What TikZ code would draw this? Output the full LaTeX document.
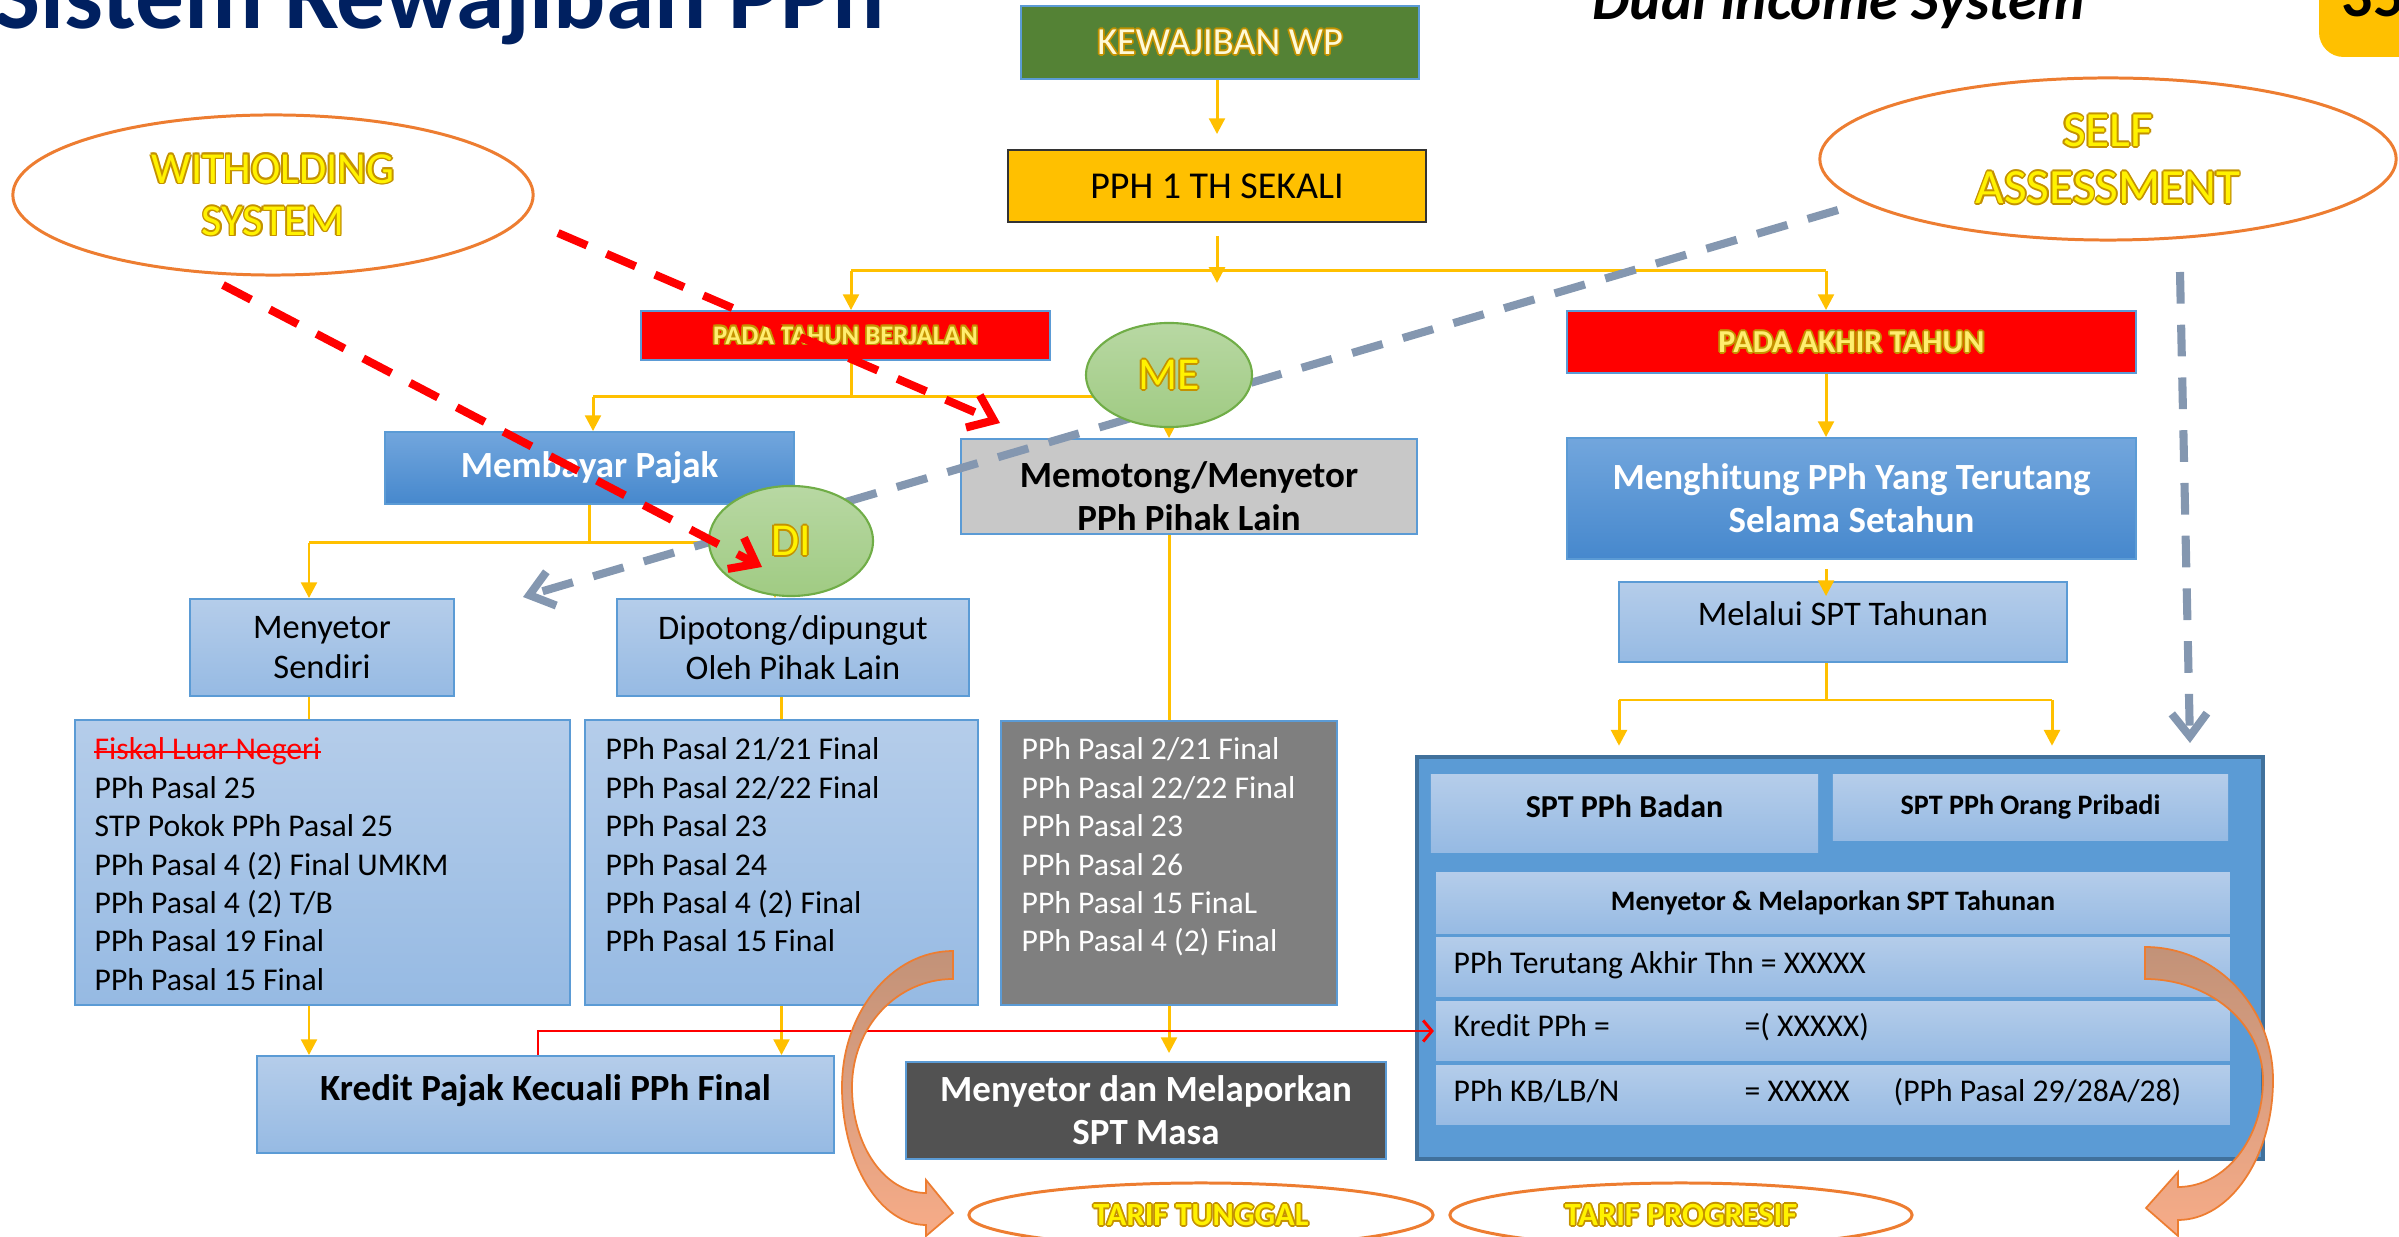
\documentclass[tikz,border=0pt]{standalone}
\usepackage{fontspec}
\setmainfont{Carlito}
\usetikzlibrary{arrows.meta}
\usetikzlibrary{shapes.geometric}

\definecolor{flowyellow}{RGB}{255,192,0}
\definecolor{navytitle}{RGB}{0,32,96}
\definecolor{okgreen}{RGB}{84,130,53}
\definecolor{edgeblue}{RGB}{91,155,213}
\definecolor{panelblue}{RGB}{91,155,213}
\definecolor{paneledge}{RGB}{65,113,156}
\definecolor{dashgrey}{RGB}{132,151,176}
\definecolor{ovalorange}{RGB}{237,125,49}
\definecolor{waedge}{RGB}{196,146,0}
\definecolor{wayellow}{RGB}{255,242,0}
\definecolor{kewtext}{RGB}{255,250,215}
\definecolor{padatext}{RGB}{255,238,110}
\definecolor{lightblueA}{RGB}{181,205,234}
\definecolor{lightblueB}{RGB}{150,186,227}
\definecolor{midblueA}{RGB}{114,166,221}
\definecolor{midblueB}{RGB}{70,136,205}
\definecolor{boxgrey}{RGB}{200,200,200}
\definecolor{listgrey}{RGB}{127,127,127}
\definecolor{darkgrey}{RGB}{82,82,82}
\definecolor{ovalgreenA}{RGB}{184,216,163}
\definecolor{ovalgreenB}{RGB}{160,203,131}
\definecolor{ovalgreenedge}{RGB}{112,173,71}
\definecolor{bendtop}{RGB}{194,146,120}
\definecolor{bendbottom}{RGB}{247,172,136}

% outlined (word art) text
\newcommand{\wa}[1]{\leavevmode\setbox0=\hbox{#1}%
 \rlap{\color{waedge}\kern-.5pt\copy0}%
 \rlap{\color{waedge}\kern.5pt\copy0}%
 \rlap{\color{waedge}\raise.5pt\copy0}%
 \rlap{\color{waedge}\lower.5pt\copy0}%
 \rlap{\color{waedge}\kern.35pt\raise.35pt\copy0}%
 \rlap{\color{waedge}\kern-.35pt\raise.35pt\copy0}%
 \rlap{\color{waedge}\kern.35pt\lower.35pt\copy0}%
 \rlap{\color{waedge}\kern-.35pt\lower.35pt\copy0}%
 \box0}

\tikzset{
 flow/.style={draw=flowyellow, line width=0.85pt, -{Triangle[length=4.5pt,width=4.5pt]}},
 flowline/.style={draw=flowyellow, line width=0.85pt},
 redline/.style={draw=red, line width=0.85pt, -{Straight Barb[length=2.5pt,width=6pt]}},
 reddash/.style={draw=red, line width=2.3pt, dash pattern=on 9pt off 6pt, -{Straight Barb[length=6.5pt,width=10pt]}},
 greydash/.style={draw=dashgrey, line width=2.3pt, dash pattern=on 9pt off 6pt, -{Straight Barb[length=6.5pt,width=10pt]}},
 basebox/.style={rectangle, inner sep=0pt, align=center, draw=edgeblue, line width=0.5pt},
 bluebox/.style={basebox, top color=midblueA, bottom color=midblueB, text=white, font=\fontsize{10.5}{12.2}\selectfont\bfseries},
 palebox/.style={basebox, top color=lightblueA, bottom color=lightblueB, font=\fontsize{9.8}{11.4}\selectfont},
 redbox/.style={basebox, fill=red, text=padatext},
 oval/.style={ellipse, inner sep=0pt, align=center, draw=ovalorange, line width=0.85pt, fill=white, text=wayellow},
 greenoval/.style={ellipse, inner sep=0pt, draw=ovalgreenedge, line width=0.6pt, top color=ovalgreenA, bottom color=ovalgreenB, text=wayellow},
 listtxt/.style={anchor=base west, inner sep=0pt, font=\fontsize{9}{11}\selectfont},
 bendarrow/.style={draw=ovalorange, line width=0.5pt, top color=bendtop, bottom color=bendbottom},
}

\begin{document}
\begin{tikzpicture}[x=0.01cm,y=-0.01cm]
 \useasboundingbox (0,0) rectangle (2399,1237);
 \clip (0,0) rectangle (2399,1237);

 % Headings of the slide
 \node[anchor=base west, inner sep=0pt, text=navytitle, font=\fontsize{27.7}{30}\selectfont\bfseries] (title) at (-6,29) {Sistem Kewajiban PPh};
 \node[anchor=base west, inner sep=0pt, font=\fontsize{16.8}{20}\selectfont\bfseries\itshape] (dual) at (1592,20) {Dual Income System};
 \fill[flowyellow, rounded corners=7pt] (2319,-40) rectangle (2460,57);
 \node[anchor=base west, inner sep=0pt, font=\fontsize{17.6}{20}\selectfont\bfseries] (pagenum) at (2341,17) {35};

 % Top of the scheme
 \node[basebox, fill=okgreen, text=kewtext, minimum width=3.98cm, minimum height=0.73cm, font=\fontsize{10.9}{12}\selectfont] (kewajiban) at (1220,42.5) {\wa{KEWAJIBAN WP}};
 \node[basebox, fill=flowyellow, draw=black!80, minimum width=4.18cm, minimum height=0.72cm, font=\fontsize{10.8}{12}\selectfont] (sekali) at (1217,186) {PPH 1 TH SEKALI};
 \node[redbox, minimum width=4.09cm, minimum height=0.49cm, font=\fontsize{7.6}{9}\selectfont\bfseries] (berjalan) at (845.5,335.5) {\wa{PADA TAHUN BERJALAN}};
 \node[redbox, minimum width=5.69cm, minimum height=0.62cm, font=\fontsize{9.1}{10}\selectfont\bfseries] (akhir) at (1851.5,342) {\wa{PADA AKHIR TAHUN}};

 % Boxes during the year
 \node[bluebox, minimum width=4.09cm, minimum height=0.72cm] (bayar) at (589.5,468) {Membayar Pajak};
 \node[basebox, fill=boxgrey, minimum width=4.56cm, minimum height=0.95cm, font=\fontsize{10.5}{12.2}\selectfont\bfseries] (potong) at (1189,486.5) {\rule{0pt}{0.45cm}Memotong/Menyetor\\PPh Pihak Lain};
 \node[palebox, minimum width=2.64cm, minimum height=0.97cm] (sendiri) at (322,647.5) {Menyetor\\Sendiri};
 \node[palebox, minimum width=3.52cm, minimum height=0.97cm] (dipungut) at (793,647.5) {Dipotong/dipungut\\Oleh Pihak Lain};

 % Boxes at the end of the year
 \node[bluebox, minimum width=5.69cm, minimum height=1.21cm] (hitung) at (1851.5,498.5) {Menghitung PPh Yang Terutang\\Selama Setahun};
 \node[palebox, minimum width=4.48cm, minimum height=0.80cm, text height=0.22cm, text depth=0.15cm] (melalui) at (1843,622) {Melalui SPT Tahunan};

 % Lists of articles
 \node[palebox, minimum width=4.95cm, minimum height=2.85cm] (listsendiri) at (322.5,862.5) {};
 \node[palebox, minimum width=3.93cm, minimum height=2.85cm] (listpungut) at (781.5,862.5) {};
 \node[basebox, fill=listgrey, minimum width=3.36cm, minimum height=2.84cm] (listpotong) at (1169,863) {};

 \node[listtxt, text=red] (fiskal) at (94,760) {Fiskal Luar Negeri};
 \draw[red, line width=0.6pt] ([yshift=2.4pt]fiskal.base west) -- ([yshift=2.4pt]fiskal.base east);
 \foreach \txt [count=\i from 1] in {PPh Pasal 25, STP Pokok PPh Pasal 25, PPh Pasal 4 (2) Final UMKM, PPh Pasal 4 (2) T/B, PPh Pasal 19 Final, PPh Pasal 15 Final}
   \node[listtxt] (lsendiri\i) at (94,{760+38.4*\i}) {\txt};
 \foreach \txt [count=\i from 0] in {PPh Pasal 21/21 Final, PPh Pasal 22/22 Final, PPh Pasal 23, PPh Pasal 24, PPh Pasal 4 (2) Final, PPh Pasal 15 Final}
   \node[listtxt] (lpungut\i) at (605,{760+38.4*\i}) {\txt};
 \foreach \txt [count=\i from 0] in {PPh Pasal 2/21 Final, PPh Pasal 22/22 Final, PPh Pasal 23, PPh Pasal 26, PPh Pasal 15 FinaL, PPh Pasal 4 (2) Final}
   \node[listtxt, text=white] (lpotong\i) at (1021,{760+38.4*\i}) {\txt};

 % Bottom boxes
 \node[palebox, minimum width=5.77cm, minimum height=0.97cm, text height=0.26cm, text depth=0.33cm, font=\fontsize{10.5}{12.2}\selectfont\bfseries] (kredit) at (545.5,1104.5) {Kredit Pajak Kecuali PPh Final};
 \node[basebox, fill=darkgrey, text=white, minimum width=4.80cm, minimum height=0.97cm, font=\fontsize{10.5}{12.2}\selectfont\bfseries] (masa) at (1146,1110.5) {Menyetor dan Melaporkan\\SPT Masa};

 % Panel of the annual return
 \node[rectangle, fill=panelblue, draw=paneledge, line width=1.2pt, minimum width=8.46cm, minimum height=4.02cm] (panel) at (1840,958) {};
 \node[palebox, draw=none, minimum width=3.87cm, minimum height=0.77cm, text height=0.2cm, text depth=0.12cm, font=\fontsize{9.1}{11}\selectfont\bfseries] (badan) at (1624.5,813.5) {SPT PPh Badan};
 \node[palebox, draw=none, minimum width=3.95cm, minimum height=0.65cm, font=\fontsize{8}{10}\selectfont\bfseries] (pribadi) at (2030.5,807.5) {SPT PPh Orang Pribadi};
 \node[palebox, minimum width=7.96cm, minimum height=0.64cm, font=\fontsize{8}{10}\selectfont\bfseries] (rowhead) at (1833,903) {Menyetor \& Melaporkan SPT Tahunan};
 \node[palebox, minimum width=7.96cm, minimum height=0.62cm] (rowutang) at (1833,967) {};
 \node[palebox, minimum width=7.96cm, minimum height=0.62cm] (rowkredit) at (1833,1031) {};
 \node[palebox, minimum width=7.96cm, minimum height=0.62cm] (rowkb) at (1833,1095) {};
 \node[listtxt] (utang) at (1453,974) {PPh Terutang Akhir Thn = XXXXX};
 \node[listtxt] (kreditpph) at (1453,1037) {Kredit PPh =};
 \node[listtxt] (kreditval) at (1744,1037) {=( XXXXX)};
 \node[listtxt] (kb) at (1453,1101) {PPh KB/LB/N};
 \node[listtxt] (kbval) at (1744,1101) {= XXXXX};
 \node[listtxt] (kbpasal) at (1893,1101) {(PPh Pasal 29/28A/28)};

 % Connectors from the top
 \coordinate (hubtip) at (1217,283);
 \coordinate (hubtopL) at (851,271);
 \coordinate (hubtopR) at (1826,271);
 \draw[flow, shorten >=0.15cm] (kewajiban.south -| sekali.north) -- (sekali.north);
 \draw[flow, shorten <=0.13cm] (sekali.south) -- (hubtip);
 \draw[flowline] (hubtopL) -- (hubtopR);
 \draw[flow] (hubtopL) -- (hubtopL |- berjalan.north);
 \draw[flow] (hubtopR) -- (hubtopR |- akhir.north);

 % Connectors during the year
 \coordinate (hubmidL) at (593,397);
 \coordinate (hubmidR) at (1169,397);
 \draw[flowline] (hubtopL |- berjalan.south) -- (hubtopL |- hubmidL);
 \draw[flowline] (hubmidL) -- (hubmidR);
 \draw[flow] (hubmidL) -- (hubmidL |- bayar.north);
 \draw[flow] (hubmidR) -- (hubmidR |- potong.north);
 \coordinate (hublowL) at (309,543);
 \coordinate (hublowR) at (775,543);
 \draw[flowline] (bayar.south) -- (bayar.south |- hublowL);
 \draw[flowline] (hublowL) -- (hublowR);
 \draw[flow] (hublowL) -- (hublowL |- sendiri.north);
 \draw[flow] (hublowR) -- (hublowR |- dipungut.north);
 \draw[flowline] (hublowL |- sendiri.south) -- (hublowL |- listsendiri.north);
 \draw[flowline] (listpungut.north |- dipungut.south) -- (listpungut.north);
 \draw[flowline] (listpotong.north |- potong.south) -- (listpotong.north);
 \draw[flow] (hublowL |- listsendiri.south) -- (hublowL |- kredit.north);
 \draw[flow] (listpungut.south) -- (listpungut.south |- kredit.north);
 \draw[flow, shorten >=0.08cm] (listpotong.south) -- (listpotong.south |- masa.north);

 % Connectors at the end of the year
 \coordinate (hubsptL) at (1619,700);
 \coordinate (hubsptR) at (2052,700);
 \draw[flow] (hubtopR |- akhir.south) -- (hubtopR |- hitung.north);
 \draw[flow, shorten <=0.09cm, shorten >=-0.15cm] (hubtopR |- hitung.south) -- (hubtopR |- melalui.north);
 \draw[flowline] (hubtopR |- melalui.south) -- (hubtopR |- hubsptL);
 \draw[flowline] (hubsptL) -- (hubsptR);
 \draw[flow, shorten >=0.09cm] (hubsptL) -- (hubsptL |- panel.north);
 \draw[flow, shorten >=0.09cm] (hubsptR) -- (hubsptR |- panel.north);

 % Tax credit into the annual return
 \draw[redline] ([xshift=-0.075cm]kredit.north) |- (rowkredit.west);

 % Self assessment
 \node[oval, minimum width=5.76cm, minimum height=1.62cm, font=\fontsize{14}{16.2}\selectfont] (self) at (2108,159) {\wa{SELF}\\\wa{ASSESSMENT}};
 \coordinate (selffrom) at (1838,210);
 \coordinate (selfto) at (523,597);
 \coordinate (selfdown) at (2180,272);
 \coordinate (selfend) at (2190,743);
 \draw[greydash] (selffrom) -- (selfto);
 \draw[greydash] (selfdown) -- (selfend);

 % ME and DI
 \node[greenoval, minimum width=1.66cm, minimum height=1.04cm, font=\fontsize{13}{15}\selectfont] (me) at (1169,375) {\wa{ME}};
 \node[greenoval, minimum width=1.64cm, minimum height=1.10cm, font=\fontsize{13}{15}\selectfont] (di) at (791,541) {\wa{DI}};

 % Withholding system
 \node[oval, minimum width=5.2cm, minimum height=1.6cm, font=\fontsize{12.6}{14.8}\selectfont] (withold) at (273,195) {\wa{WITHOLDING}\\\wa{SYSTEM}};
 \coordinate (wholdA) at (558,233);
 \coordinate (wholdAend) at (1000,423);
 \coordinate (wholdB) at (223,285);
 \coordinate (wholdBend) at (762,567);
 \draw[reddash] (wholdA) -- (wholdAend);
 \draw[reddash] (wholdB) -- (wholdBend);

 % Tariffs
 \node[oval, minimum width=4.64cm, minimum height=0.64cm, font=\fontsize{9.2}{11}\selectfont\bfseries] (tunggal) at (1201,1215) {\wa{TARIF TUNGGAL}};
 \node[oval, minimum width=4.62cm, minimum height=0.64cm, font=\fontsize{9.2}{11}\selectfont\bfseries] (progresif) at (1681,1215) {\wa{TARIF PROGRESIF}};

 % Curved arrows to the tariffs
 \draw[bendarrow] (953,951) .. controls (892,951) and (842,1012) .. (842,1087)
   .. controls (842,1163) and (880,1225) .. (926,1225) -- (926,1236) -- (953,1213) -- (926,1180) -- (926,1193)
   .. controls (885,1193) and (852,1146) .. (852,1087) .. controls (852,1027) and (897,979) .. (953,979) -- cycle;
 \draw[bendarrow] (2145,947) .. controls (2216,947) and (2273,1007) .. (2273,1080)
   .. controls (2273,1157) and (2230,1220) .. (2178,1220) -- (2178,1236) -- (2146,1208) -- (2178,1172) -- (2178,1187)
   .. controls (2225,1187) and (2263,1139) .. (2263,1080) .. controls (2263,1024) and (2210,979) .. (2145,979) -- cycle;

\end{tikzpicture}
\end{document}
